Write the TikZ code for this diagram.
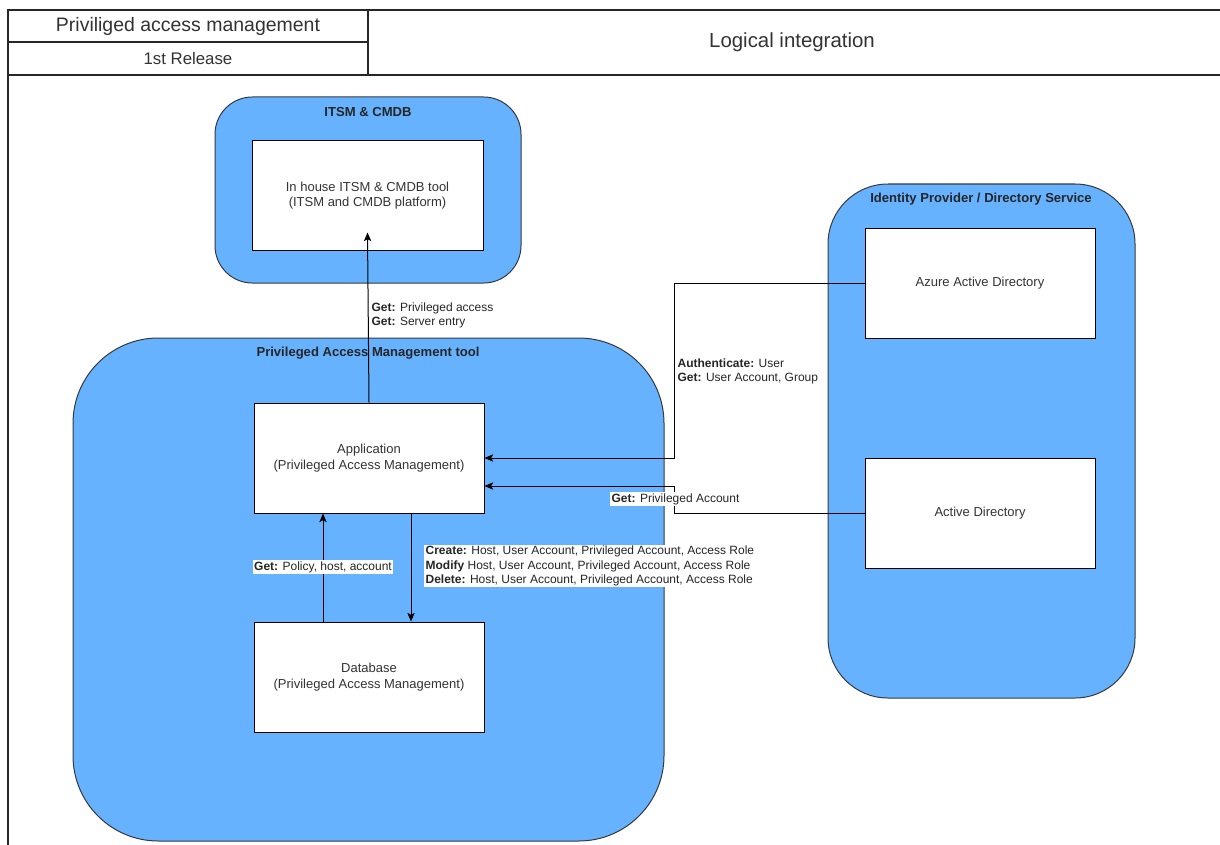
\documentclass[tikz,border=0pt]{standalone}
\usepackage{fontspec}
\setmainfont{Liberation Sans}
\usetikzlibrary{arrows.meta,calc}
\definecolor{paneblue}{HTML}{66B2FF}
\definecolor{edgegrey}{HTML}{36393D}
\definecolor{txtgrey}{HTML}{333333}
\begin{document}
\begin{tikzpicture}[x=0.75pt,y=-0.75pt,
  frame/.style={draw=black!85, line width=1pt},
  container/.style={draw=edgegrey, fill=paneblue, line width=0.75pt, inner sep=0pt},
  toolbox/.style={draw=black, fill=white, line width=0.75pt, minimum width=172.5pt,
    minimum height=82.5pt, inner sep=0pt, align=center,
    font=\fontsize{9.75}{11.7}\selectfont, text=txtgrey},
  title/.style={font=\bfseries\fontsize{9.8}{11.5}\selectfont, text=black!85, inner sep=0pt},
  head/.style={font=\fontsize{14.6}{17}\selectfont, text=txtgrey, inner sep=0pt},
  lbl/.style={font=\fontsize{9}{10.9}\selectfont, align=left, inner sep=1pt, text=black!85},
  lblbg/.style={lbl, fill=white},
  link/.style={draw=black, line width=0.75pt, -{Stealth[length=6.5pt,width=5.5pt,inset=1.5pt]}},
]
\useasboundingbox (0,0) rectangle (1220,845);
\fill[white] (0,0) rectangle (1220,845);

% header table and page frame
\draw[frame] (8,845) -- (8,10) -- (1220,10);
\draw[frame, line width=1.4pt] (8,75) -- (1220,75);
\draw[frame] (368,10) -- (368,75);
\draw[frame] (8,42) -- (368,42);
\node[head] (hdrtitle) at (188,26) {Priviliged access management};
\node[head, font=\fontsize{12.6}{15}\selectfont] (hdrrel) at (188,58) {1st Release};
\node[head, font=\fontsize{15.3}{18}\selectfont] (hdrlogic) at (792,42) {Logical integration};

% containers
\node[container, rounded corners=28pt, minimum width=229.5pt, minimum height=139.5pt] (itsm) at (368,190) {};
\node[container, rounded corners=64pt, minimum width=443.25pt, minimum height=377.25pt] (pam) at (368.5,589.5) {};
\node[container, rounded corners=45pt, minimum width=230.25pt, minimum height=385.5pt] (idp) at (981.5,441) {};

\node[title] (itsmtitle) at (368,112) {ITSM \& CMDB};
\node[title] (pamtitle) at (368,353) {Privileged Access Management tool};
\node[title] (idptitle) at (981,199) {Identity Provider / Directory Service};

% tools
\node[toolbox, minimum width=173.25pt, minimum height=81.75pt] (itsmtool) at (367.5,195.5)
  {In house ITSM \& CMDB tool\\(ITSM and CMDB platform)};
\node[toolbox] (app) at (369,458) {Application\\(Privileged Access Management)};
\node[toolbox] (db) at (369,677) {Database\\(Privileged Access Management)};
\node[toolbox] (aad) at (980,283) {Azure Active Directory};
\node[toolbox] (ad) at (980,513) {Active Directory};

% connectors
\draw[link] (app.north) -- ($(itsmtool.south)+(0,-18)$);
\draw[link] (aad.west) -- ++(-190,0) |- (app.east);
\draw[link] (ad.west) -- ++(-190,0) |- ($(app.east)+(0,28)$);
\draw[link] ($(app.south)+(42,0)$) -- ($(db.north)+(42,0)$);
\draw[link] ($(db.north)+(-46,0)$) -- ($(app.south)+(-46,0)$);

% connector labels
\node[lbl, anchor=west] (lblitsm) at (370,315.5)
  {\textbf{Get:} Privileged access\\\textbf{Get:} Server entry};
\node[lbl, anchor=west] (lblaad) at (676,371.5)
  {\textbf{Authenticate:} User\\\textbf{Get:} User Account, Group};
\node[lblbg] (lblad) at (675.5,499) {\textbf{Get:} Privileged Account};
\node[lblbg, anchor=west] (lblcrud) at (424,566)
  {\textbf{Create:} Host, User Account, Privileged Account, Access Role\\
   \textbf{Modify} Host, User Account, Privileged Account, Access Role\\
   \textbf{Delete:} Host, User Account, Privileged Account, Access Role};
\node[lblbg] (lblpol) at (323,567) {\textbf{Get:} Policy, host, account};
\end{tikzpicture}
\end{document}
